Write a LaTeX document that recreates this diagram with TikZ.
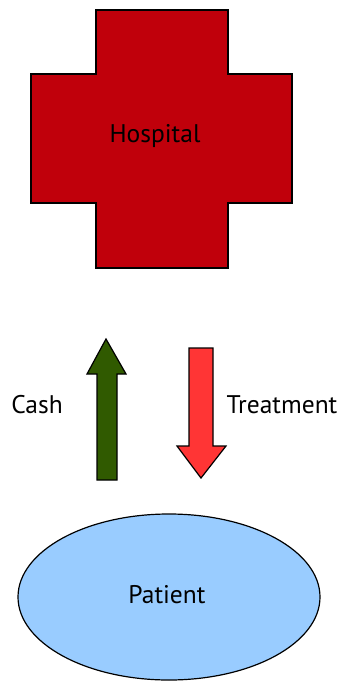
\documentclass[tikz,border=0pt]{standalone}
\usepackage{fontspec}
\setmainfont{PT Sans}
\usetikzlibrary{shapes.geometric}
\definecolor{crossred}{HTML}{C0000B}
\definecolor{cashgreen}{HTML}{305A00}
\definecolor{treatred}{HTML}{FF3535}
\definecolor{patblue}{HTML}{99CCFF}
\tikzset{
  outline/.style={draw=black, line width=1.2pt, line join=miter},
  lbl/.style={font=\fontsize{25.5}{30}\selectfont, inner sep=0pt, text=black},
}
\begin{document}
\begin{tikzpicture}[x=1pt, y=-1pt]
\useasboundingbox (0,0) rectangle (341,681);
% cross
\filldraw[outline, fill=crossred]
  (96,10) -- (228,10) -- (228,74) -- (292,74) -- (292,203) -- (228,203)
  -- (228,268) -- (96,268) -- (96,203) -- (31,203) -- (31,74) -- (96,74) -- cycle;
\node[lbl] (hospital) at (155,136) {Hospital};
% cash arrow (up)
\filldraw[outline, fill=cashgreen]
  (97,480) -- (97,374) -- (87,374) -- (106,339) -- (126,374) -- (117,374) -- (117,480) -- cycle;
\node[lbl] (cash) at (37,405) {Cash};
% treatment arrow (down)
\filldraw[outline, fill=treatred]
  (189,348) -- (213,348) -- (213,446) -- (226,446) -- (201,478) -- (177,446) -- (189,446) -- cycle;
\node[lbl] (treatment) at (282,405) {Treatment};
% patient
\node[ellipse, outline, fill=patblue, minimum width=302pt, minimum height=166pt, inner sep=0pt] (patientshape) at (169,597) {};
\node[lbl] (patient) at (167,595) {Patient};
\end{tikzpicture}
\end{document}
